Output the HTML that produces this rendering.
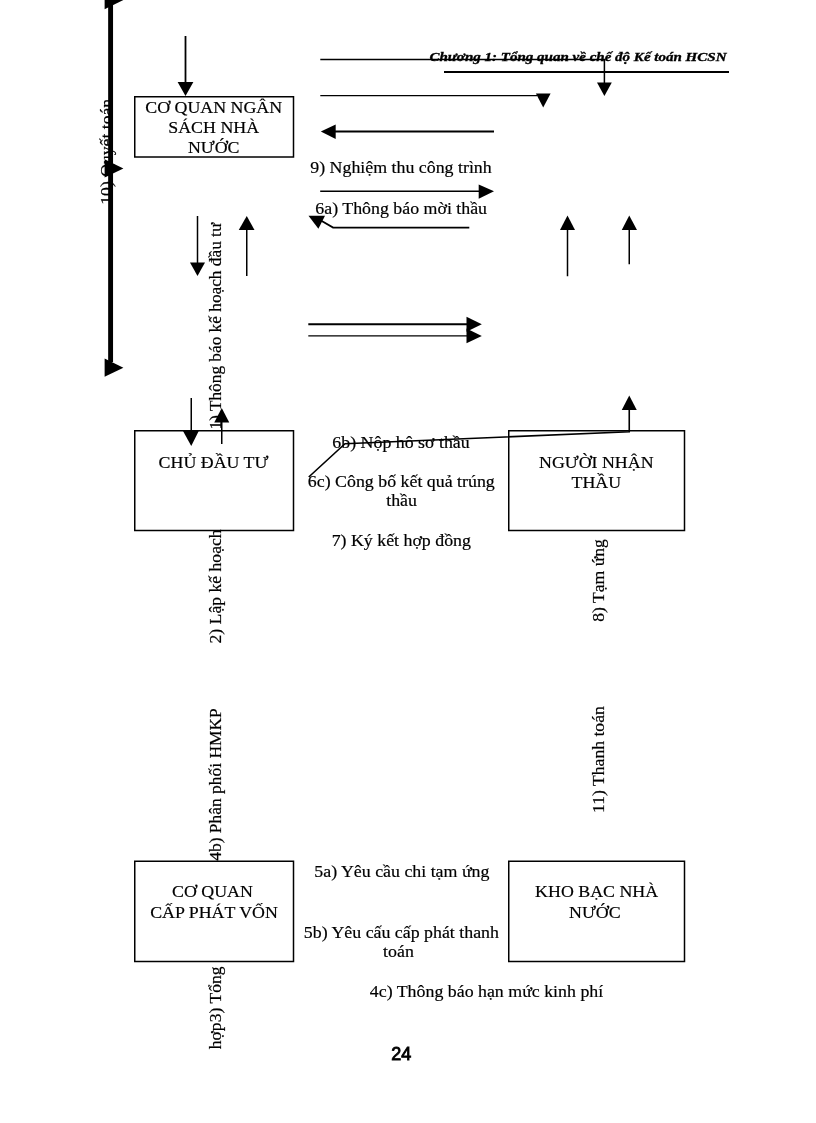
<!DOCTYPE html>
<html>
<head>
<meta charset="utf-8">
<style>
html,body{margin:0;padding:0;background:#fff;}
body{width:816px;height:1123px;overflow:hidden;position:relative;}
svg{position:absolute;left:0;top:0;filter:blur(0.3px);}
text{font-family:"Liberation Serif",serif;font-size:17.6px;fill:#000;stroke:#000;stroke-width:0.2px;}
.v{font-size:17.65px;}
.hd{font-weight:bold;font-style:italic;font-size:13.5px;stroke:#000;stroke-width:0.35px;}
.pg{font-family:"Liberation Sans",sans-serif;font-weight:normal;font-size:18px;stroke:#000;stroke-width:0.85px;}
</style>
</head>
<body>
<svg width="816" height="1123" viewBox="0 0 816 1123">

<g fill="none" stroke="#000" stroke-width="1.5">
  <rect x="134.75" y="96.75" width="158.75" height="60.25"/>
  <rect x="134.75" y="430.75" width="158.75" height="99.75"/>
  <rect x="134.75" y="861.25" width="158.75" height="100.25"/>
  <rect x="508.75" y="430.75" width="175.75" height="99.75"/>
  <rect x="508.75" y="861.25" width="175.75" height="100.25"/>
</g>
<g stroke="#000" fill="none">
  <line x1="110.6" y1="0" x2="110.6" y2="362" stroke-width="4.9"/>
  <line x1="444" y1="72.1" x2="729" y2="72.1" stroke-width="2"/>
  <line x1="185.5" y1="36" x2="185.5" y2="83" stroke-width="1.8"/>
  <line x1="197.5" y1="216" x2="197.5" y2="263" stroke-width="1.5"/>
  <line x1="246.75" y1="229" x2="246.75" y2="276" stroke-width="1.5"/>
  <line x1="191.25" y1="398" x2="191.25" y2="432" stroke-width="1.5"/>
  <line x1="221.75" y1="421" x2="221.75" y2="444" stroke-width="1.5"/>
  <polyline points="320.3,59.5 604.4,59.5 604.4,83" stroke-width="1.5"/>
  <line x1="320.3" y1="95.7" x2="537" y2="95.7" stroke-width="1.3"/>
  <line x1="334" y1="131.4" x2="494" y2="131.4" stroke-width="2"/>
  <line x1="320.2" y1="191.2" x2="480" y2="191.2" stroke-width="1.5"/>
  <polyline points="469.3,227.6 333.1,227.6 320,220" stroke-width="1.8"/>
  <line x1="308.3" y1="324.3" x2="468" y2="324.3" stroke-width="2"/>
  <line x1="308.3" y1="335.9" x2="468" y2="335.9" stroke-width="1.4"/>
  <line x1="567.5" y1="229" x2="567.5" y2="276.25" stroke-width="1.5"/>
  <line x1="629.25" y1="229" x2="629.25" y2="264.25" stroke-width="1.5"/>
  <polyline points="308.75,477 345,443.75 629.25,431.75 629.25,409" stroke-width="1.6"/>
</g>
<g fill="#000" stroke="none">
  <polygon points="104.6,-9.2 104.6,9.2 123.4,0"/>
  <polygon points="104.6,159.2 104.6,177.6 123.4,168.4"/>
  <polygon points="104.6,358.4 104.6,376.8 123.4,367.7"/>
  <polygon points="177.6,82 193.4,82 185.5,96"/>
  <polygon points="190,262.5 205,262.5 197.5,276"/>
  <polygon points="238.75,230 254.5,230 246.75,216"/>
  <polygon points="183,431 198.75,431 191.25,446"/>
  <polygon points="214.25,422.5 229.25,422.5 221.75,408"/>
  <polygon points="597,82.6 611.8,82.6 604.4,95.9"/>
  <polygon points="535.9,93.5 550.6,93.5 543.2,107.6"/>
  <polygon points="320.8,131.4 335.7,124.4 335.7,139"/>
  <polygon points="494,191.2 478.7,184.5 478.7,198.8"/>
  <polygon points="308.5,215.8 325,215.8 318.4,228.7"/>
  <polygon points="466.5,316.8 466.5,331.8 481.8,324.3"/>
  <polygon points="466.5,328.5 466.5,343.2 481.8,336"/>
  <polygon points="560,230 575,230 567.5,215.5"/>
  <polygon points="621.75,230 637,230 629.25,215.5"/>
  <polygon points="621.75,410 636.75,410 629.25,395.5"/>
</g>
<text class="hd" x="726.5" y="60.8" text-anchor="end" textLength="297" lengthAdjust="spacingAndGlyphs">Chương 1: Tổng quan về chế độ Kế toán HCSN</text>
<g transform="scale(1.015,1)">
  <text x="210.54" y="113.0" text-anchor="middle">CƠ QUAN NGÂN</text>
  <text x="210.54" y="133.0" text-anchor="middle">SÁCH NHÀ</text>
  <text x="210.54" y="152.9" text-anchor="middle">NƯỚC</text>
  <text x="210.34" y="468.0" text-anchor="middle">CHỦ ĐẦU TƯ</text>
  <text x="209.36" y="897.5" text-anchor="middle">CƠ QUAN</text>
  <text x="210.84" y="918.0" text-anchor="middle">CẤP PHÁT VỐN</text>
  <text x="587.49" y="468.0" text-anchor="middle">NGƯỜI NHẬN</text>
  <text x="587.49" y="488.5" text-anchor="middle">THẦU</text>
  <text x="587.78" y="897.5" text-anchor="middle">KHO BẠC NHÀ</text>
  <text x="586.01" y="918.0" text-anchor="middle">NƯỚC</text>
  <text x="395.07" y="173.4" text-anchor="middle">9) Nghiệm thu công trình</text>
  <text x="395.27" y="213.8" text-anchor="middle">6a) Thông báo mời thầu</text>
  <text x="395.07" y="447.7" text-anchor="middle">6b) Nộp hô sơ thầu</text>
  <text x="395.37" y="487.5" text-anchor="middle">6c) Công bố kết quả trúng</text>
  <text x="395.67" y="506.3" text-anchor="middle">thầu</text>
  <text x="395.37" y="546.5" text-anchor="middle">7) Ký kết hợp đồng</text>
  <text x="395.96" y="877.3" text-anchor="middle">5a) Yêu cầu chi tạm ứng</text>
  <text x="395.47" y="938.0" text-anchor="middle">5b) Yêu cấu cấp phát thanh</text>
  <text x="392.61" y="956.8" text-anchor="middle">toán</text>
  <text x="479.31" y="997.5" text-anchor="middle">4c) Thông báo hạn mức kinh phí</text>
</g>
<text class="v" transform="translate(112.1,204.7) rotate(-90)">10) Quyết toán</text>
<text class="v" style="font-size:17.3px" transform="translate(220.8,429.5) rotate(-90)">1) Thông báo kế hoạch đầu tư</text>
<text class="v" transform="translate(220.8,643.5) rotate(-90)">2) Lập kế hoạch</text>
<text class="v" style="font-size:17.45px" transform="translate(220.8,860.8) rotate(-90)">4b) Phân phối HMKP</text>
<text class="v" transform="translate(220.8,1049.3) rotate(-90)">hợp3) Tổng</text>
<text class="v" transform="translate(603.5,621.8) rotate(-90)">8) Tạm ứng</text>
<text class="v" transform="translate(603.5,813) rotate(-90)">11) Thanh toán</text>
<text class="pg" x="401.3" y="1059.7" text-anchor="middle">24</text>
</svg>
</body>
</html>
